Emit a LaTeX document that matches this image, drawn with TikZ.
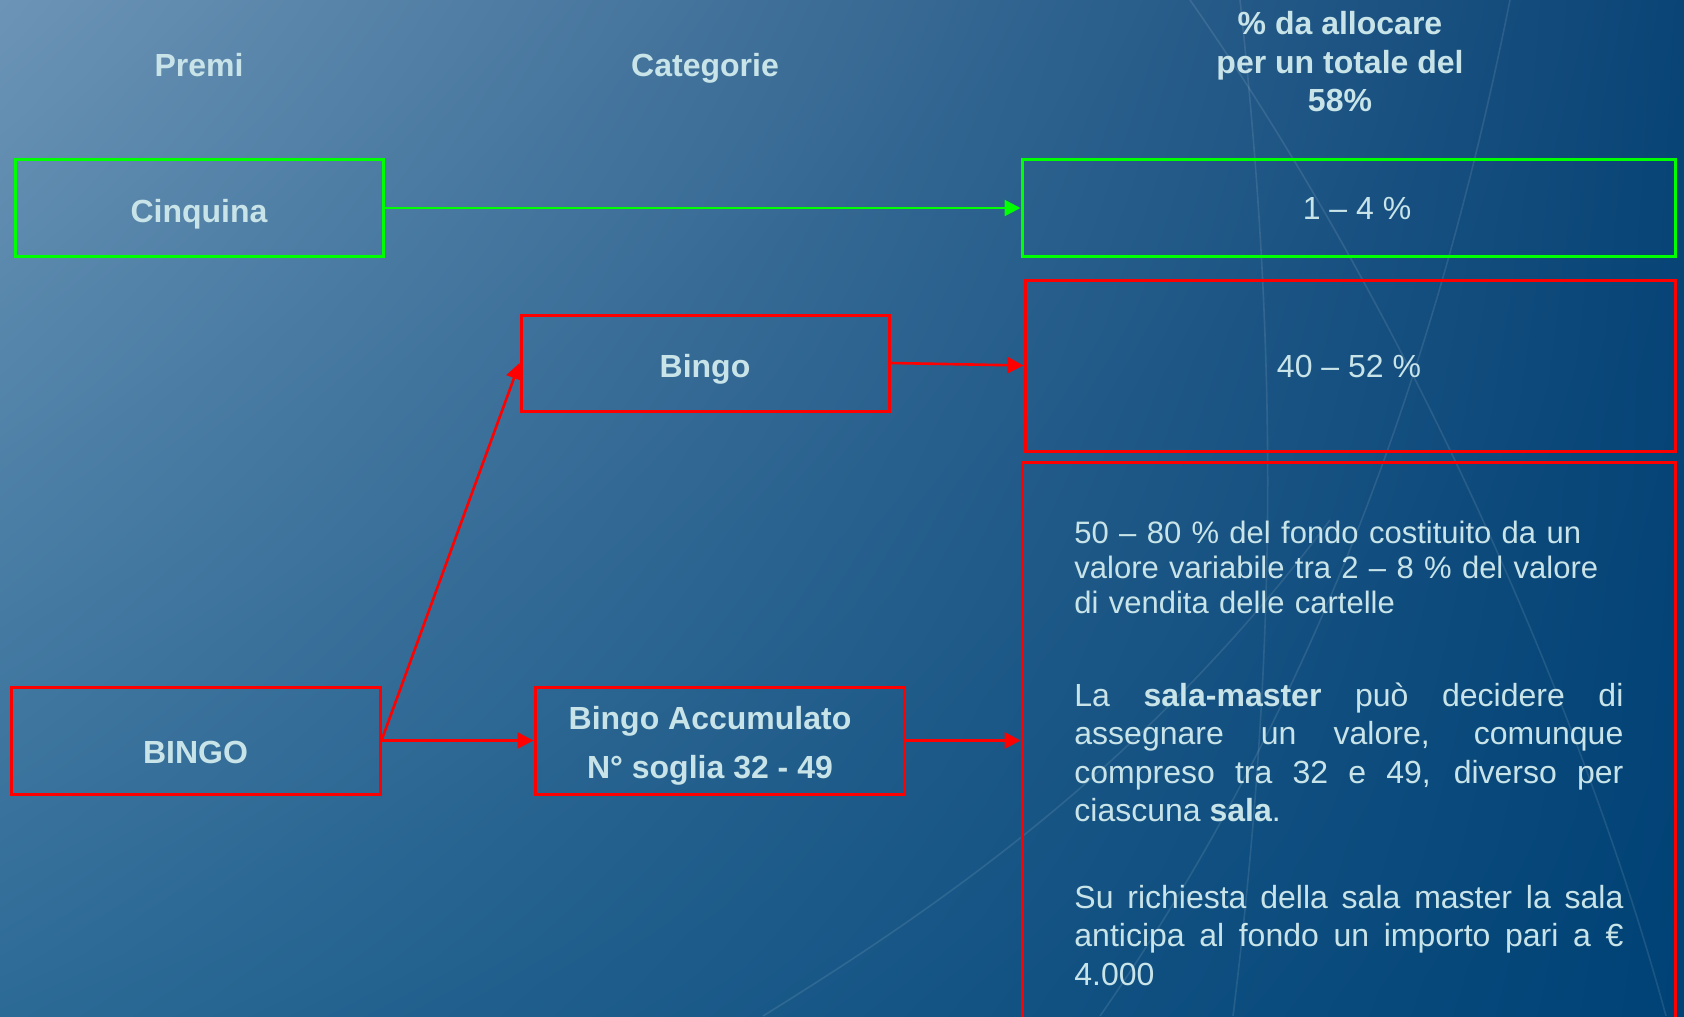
\documentclass[tikz,border=0pt]{standalone}
\usepackage{fontspec}
\setmainfont{Liberation Sans}
\usetikzlibrary{arrows.meta,shadings}
\definecolor{txt}{RGB}{200,228,232}
\definecolor{bgUL}{RGB}{108,148,182}
\definecolor{bgUR}{RGB}{10,68,118}
\definecolor{bgLL}{RGB}{44,106,150}
\definecolor{bgLR}{RGB}{0,66,118}
\definecolor{gline}{RGB}{0,255,0}
\definecolor{rline}{RGB}{255,0,0}
\tikzset{
  lbl/.style={text=txt, inner sep=0pt, font=\fontsize{16}{19.25}\selectfont},
  blbl/.style={lbl, font=\fontsize{16}{19.25}\selectfont\bfseries},
  gbox/.style={draw=gline, line width=1.5pt, inner sep=0pt},
  rbox/.style={draw=rline, line width=1.5pt, inner sep=0pt},
  garrow/.style={draw=gline, line width=1.3pt, -{Triangle[length=8pt,width=8pt]}},
  rarrow/.style={draw=rline, line width=1.3pt, -{Triangle[length=8pt,width=8pt]}},
  deco/.style={draw=white, opacity=0.1, line width=0.8pt}
}
\begin{document}
\begin{tikzpicture}[x=0.5pt,y=-0.5pt]
\useasboundingbox (0,0) rectangle (1684,1016);
\clip (0,0) rectangle (1684,1016);
\shade[upper left=bgUL, upper right=bgUR, lower left=bgLL, lower right=bgLR] (0,0) rectangle (1684,1016);
% faint background curves
\draw[deco] (1190,0) .. controls (1400,300) and (1580,700) .. (1666,1016);
\draw[deco] (1240,0) .. controls (1278,350) and (1278,650) .. (1233,1016);
\draw[deco] (1510,0) .. controls (1440,350) and (1320,700) .. (1100,1016);
\draw[deco] (763,1016) .. controls (950,900) and (1150,760) .. (1330,520);

% headers
\node[blbl, anchor=base] (hPremi) at (199,77) {Premi};
\node[blbl, anchor=base] (hCat) at (705,77) {Categorie};
\node[blbl, anchor=base, align=center] (hPerc) at (1340,112) {\% da allocare\\per un totale del\\58\%};

% boxes
\node[gbox, minimum width=184pt, minimum height=48pt] (cinq) at (199,208) {};
\node[gbox, minimum width=326.5pt, minimum height=48pt] (p14) at (1348.5,208) {};
\node[rbox, minimum width=184pt, minimum height=48pt] (bingo) at (705,363) {};
\node[rbox, minimum width=325pt, minimum height=85.5pt] (p40) at (1350,365.5) {};
\node[rbox, minimum width=326.5pt, minimum height=289pt] (big) at (1348.5,751) {};
\node[rbox, minimum width=184.5pt, minimum height=53.5pt] (BINGO) at (195.5,740.5) {};
\node[rbox, minimum width=184.5pt, minimum height=53.5pt] (acc) at (719.5,740.5) {};

% box texts
\node[blbl, anchor=base] (tCinq) at (199,222) {Cinquina};
\node[lbl, anchor=base] (t14) at (1357,220) {1 – 4 \%};
\node[blbl, anchor=base] (tBingo) at (705,377) {Bingo};
\node[lbl, anchor=base] (t40) at (1349,377) {40 – 52 \%};
\node[blbl, anchor=base] (tBINGO) at (195.5,763) {BINGO};
\node[blbl, anchor=base, align=center, font=\fontsize{16}{24.5}\selectfont\bfseries] (tAcc) at (710,778) {Bingo Accumulato\\N° soglia 32 - 49};

\node[lbl, anchor=base west, text width=274.5pt, align=left, font=\fontsize{15.5}{17.7}\selectfont] (para1) at (1074,543)
  {50 – 80 \% del fondo costituito da un\\valore variabile tra 2 – 8 \% del valore\\di vendita delle cartelle};
\node[lbl, anchor=base west, text width=274.5pt, align=justify] (para2) at (1074,706)
  {\hyphenpenalty=10000 La \textbf{sala-master} può decidere di\linebreak assegnare un valore, comunque\linebreak compreso tra 32 e 49, diverso per\linebreak ciascuna \textbf{sala}.};
\node[lbl, anchor=base west, text width=274.5pt, align=justify] (para3) at (1074,908)
  {\hyphenpenalty=10000 Su richiesta della sala master la sala\linebreak anticipa al fondo un importo pari a €\linebreak 4.000};

% connectors
\draw[garrow] (cinq.east) -- (p14.west);
\draw[rarrow] (bingo.east) -- (p40.west);
\draw[rarrow] (BINGO.east) -- (acc.west);
\draw[rarrow] (BINGO.east) -- (bingo.west);
\draw[rarrow] (acc.east) -- (acc.east -| big.west);
\end{tikzpicture}
\end{document}
